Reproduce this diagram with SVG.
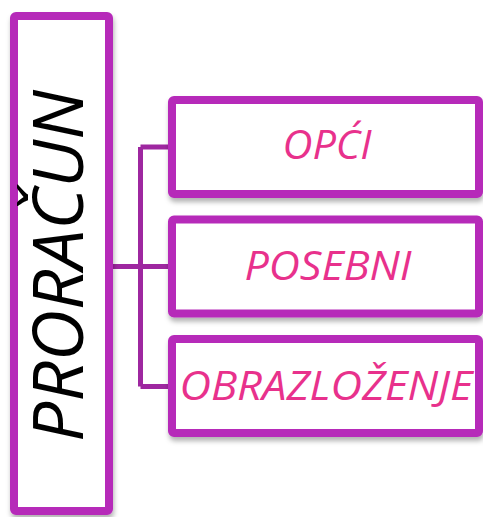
<svg xmlns="http://www.w3.org/2000/svg" width="483" height="517" viewBox="0 0 483 517">
<defs>
<filter id="sh" x="-10%" y="-10%" width="120%" height="130%">
<feDropShadow dx="1" dy="4" stdDeviation="2.5" flood-color="#000" flood-opacity="0.3"/>
</filter>
</defs>
<style>
.box{fill:#fff;stroke:#B62BB9;stroke-width:8;filter:url(#sh)}
.con{stroke:#9E27A0;stroke-width:5;fill:none}
.lbl{font-family:"Open Sans","Noto Sans",sans-serif;font-style:italic;font-size:40px;fill:#E8318C;text-anchor:middle}
.main{font-family:"Open Sans","Noto Sans",sans-serif;font-style:italic;font-size:70px;fill:#000;text-anchor:middle}
</style>
<g id="connectors">
<path class="con" d="M140.5 147 V386.5 M140.5 147 H170 M140.5 386.5 H170 M111 266.5 H170"/>
</g>
<g id="proracun">
<rect class="box" x="14" y="16" width="95" height="495" rx="2"/>
<text class="main" transform="translate(83,266) rotate(-90)" textLength="352" lengthAdjust="spacingAndGlyphs">PRORAČUN</text>
</g>
<g id="opci">
<rect class="box" x="172" y="100" width="307" height="94" rx="2"/>
<text class="lbl" x="327" y="159" textLength="89" lengthAdjust="spacingAndGlyphs">OPĆI</text>
</g>
<g id="posebni">
<rect class="box" x="172" y="219.5" width="307" height="94" rx="2"/>
<text class="lbl" x="328" y="280" textLength="167" lengthAdjust="spacingAndGlyphs">POSEBNI</text>
</g>
<g id="obrazlozenje">
<rect class="box" x="172" y="339" width="307" height="94" rx="2"/>
<text class="lbl" x="326" y="400" textLength="293" lengthAdjust="spacingAndGlyphs">OBRAZLOŽENJE</text>
</g>
</svg>
